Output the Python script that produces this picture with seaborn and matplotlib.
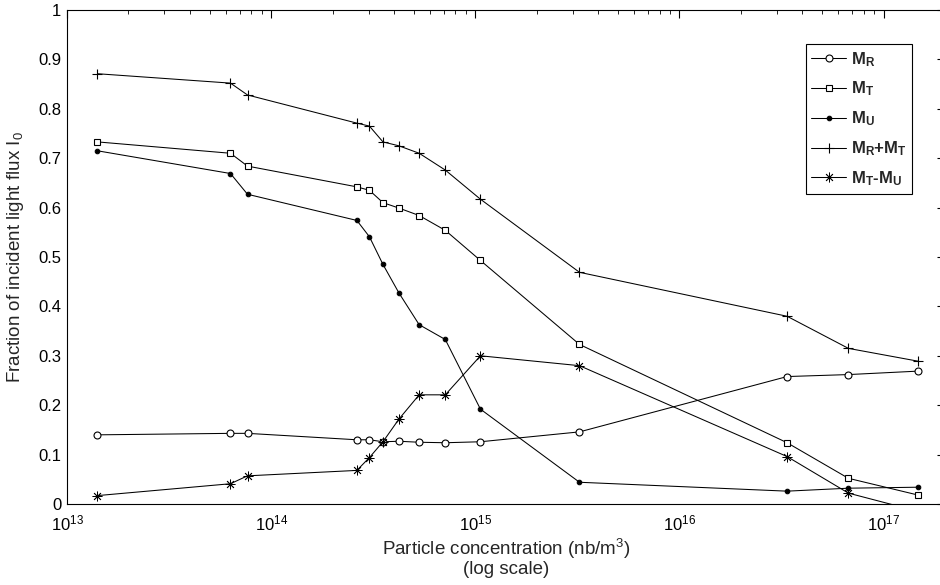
import numpy as np
import pandas as pd
import matplotlib
matplotlib.use("Agg")
import matplotlib.pyplot as plt
import seaborn as sns
from matplotlib.ticker import LogLocator, FixedLocator, FormatStrFormatter

# ---- data ----
conc = [1.41e13, 6.32e13, 7.66e13, 2.63e14, 3.03e14, 3.53e14, 4.23e14,
        5.31e14, 7.13e14, 1.06e15, 3.24e15, 3.37e16, 6.73e16, 1.48e17]
m_r = [0.140, 0.143, 0.143, 0.130, 0.130, 0.126, 0.127,
       0.125, 0.124, 0.126, 0.146, 0.258, 0.262, 0.269]
m_t = [0.733, 0.710, 0.684, 0.642, 0.635, 0.610, 0.599,
       0.584, 0.554, 0.493, 0.323, 0.124, 0.052, 0.018]
m_u = [0.715, 0.669, 0.627, 0.574, 0.541, 0.485, 0.427,
       0.363, 0.333, 0.192, 0.044, 0.026, 0.032, 0.034]
m_rt = [0.871, 0.852, 0.828, 0.771, 0.765, 0.733, 0.725,
        0.710, 0.676, 0.617, 0.469, 0.380, 0.315, 0.289]
m_tu = [0.017, 0.041, 0.057, 0.068, 0.094, 0.126, 0.172,
        0.221, 0.221, 0.300, 0.280, 0.096, 0.022, -0.015]

labels = [r"$\mathbf{M_R}$", r"$\mathbf{M_T}$", r"$\mathbf{M_U}$",
          r"$\mathbf{M_R}$+$\mathbf{M_T}$", r"$\mathbf{M_T}$-$\mathbf{M_U}$"]
series = [m_r, m_t, m_u, m_rt, m_tu]
y_ticks = [0, 0.1, 0.2, 0.3, 0.4, 0.5, 0.6, 0.7, 0.8, 0.9, 1.0]

sns.set_theme(style="white")
plt.rcParams["font.family"] = ["Liberation Sans", "DejaVu Sans"]
plt.rcParams["mathtext.fontset"] = "custom"
plt.rcParams["mathtext.rm"] = "Liberation Sans"
plt.rcParams["mathtext.it"] = "Liberation Sans"
plt.rcParams["mathtext.bf"] = "Liberation Sans:bold"
plt.rcParams["mathtext.default"] = "regular"

fig = plt.figure(figsize=(9.4, 5.85), dpi=100)
ax = fig.add_axes([67 / 940, 1 - 504 / 585, (945 - 67) / 940, (504 - 10) / 585])

styles = [
    dict(marker="o", markersize=5, markerfacecolor="white", markeredgecolor="black",
         markeredgewidth=0.8),
    dict(marker="s", markersize=5, markerfacecolor="white", markeredgecolor="black",
         markeredgewidth=0.8),
    dict(marker="o", markersize=3.3, markerfacecolor="black", markeredgecolor="black"),
    dict(marker="+", markersize=7.5, markeredgecolor="black", markeredgewidth=0.8),
    dict(marker=(8, 2, 0), markersize=7, markeredgecolor="black", markeredgewidth=0.6),
]

for vals, lab, st in zip(series, labels, styles):
    df = pd.DataFrame({"x": conc, "y": vals})
    sns.lineplot(data=df, x="x", y="y", ax=ax, color="black", linewidth=0.75,
                 label=lab, sort=False, estimator=None, **st)

ax.set_xscale("log")
ax.set_xlim(1e13, 2e17)
ax.set_ylim(0, 1)
ax.yaxis.set_major_locator(FixedLocator(y_ticks))
ax.yaxis.set_major_formatter(FormatStrFormatter("%g"))
ax.xaxis.set_major_locator(LogLocator(base=10, numticks=10))
ax.xaxis.set_minor_locator(LogLocator(base=10, subs=np.arange(2, 10), numticks=50))

for s in ax.spines.values():
    s.set_color("black")
    s.set_linewidth(0.8)

ax.tick_params(axis="both", which="both", direction="in", top=True, right=True,
               colors="black", labelsize=12)
ax.tick_params(axis="both", which="major", length=6, width=0.8)
ax.tick_params(axis="x", which="minor", length=3, width=0.6)
ax.tick_params(axis="x", which="major", pad=7)
ax.tick_params(axis="y", which="major", pad=4)

ax.set_xlabel("Particle concentration (nb/m$^3$)\n(log scale)", fontsize=13.5,
              linespacing=1.0)
ax.xaxis.set_label_coords(0.5, -0.066, transform=ax.transAxes)
ax.xaxis.label.set_verticalalignment("top")
ax.set_ylabel("Fraction of incident light flux I$_0$", fontsize=13.5)
ax.yaxis.set_label_coords(-0.047, 0.5, transform=ax.transAxes)

leg = ax.legend(loc="upper right",
                bbox_to_anchor=((912 - 67) / (945 - 67), (504 - 44) / 494),
                prop={"size": 12, "weight": "bold"}, frameon=True, fancybox=False,
                framealpha=1, edgecolor="black", handlelength=2.1, handletextpad=0.25,
                labelspacing=0.67, borderpad=0.35, borderaxespad=0)
leg.get_frame().set_linewidth(0.8)

fig.savefig("out.png", dpi=100, facecolor="white")
